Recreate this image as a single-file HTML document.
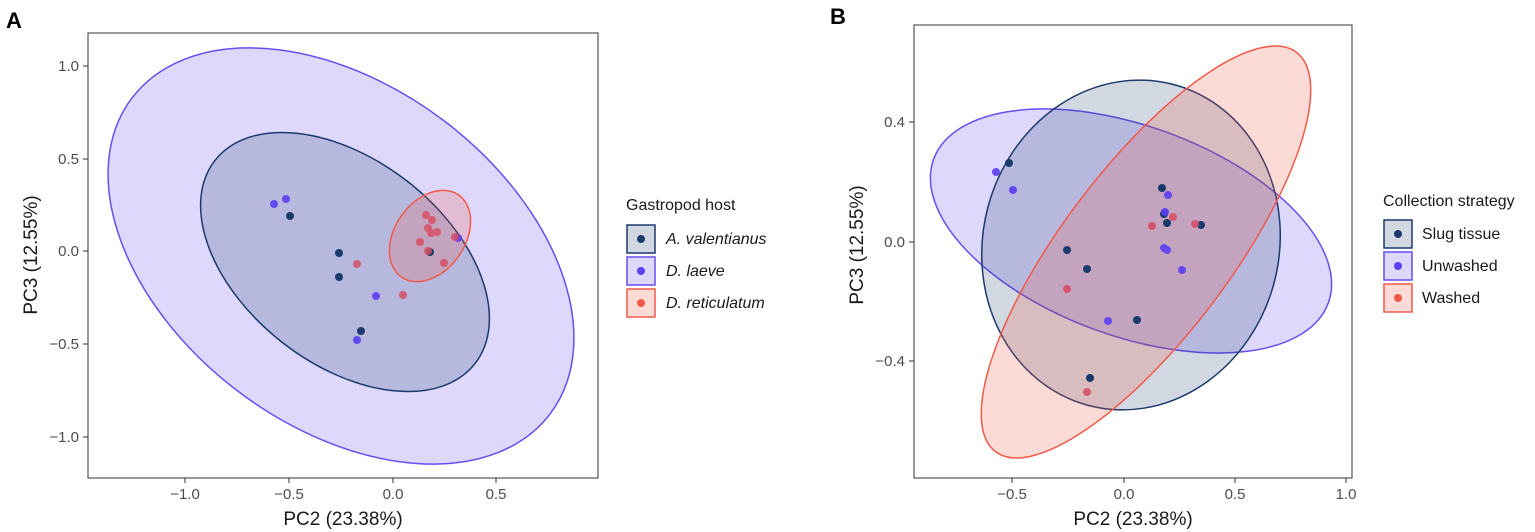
<!DOCTYPE html>
<html><head><meta charset="utf-8"><style>
html,body{margin:0;padding:0;background:#fff;}
svg{display:block;font-family:"Liberation Sans",sans-serif;}
.t{font-size:15px;fill:#4d4d4d;}
.ax{font-size:19px;fill:#1a1a1a;}
.lg{font-size:16px;fill:#1a1a1a;}
</style></head><body>
<svg width="1535" height="532" viewBox="0 0 1535 532" xmlns="http://www.w3.org/2000/svg">
<rect width="1535" height="532" fill="#fff"/>
<text x="6" y="28" font-size="22" font-weight="bold">A</text>
<text x="830" y="24" font-size="22" font-weight="bold">B</text>

<!-- Panel A -->
<g>
<ellipse cx="341" cy="256" rx="262" ry="170" transform="rotate(37 341 256)" fill="rgba(106,76,240,0.22)" stroke="#6a4cf0" stroke-width="1.5"/>
<ellipse cx="345" cy="262" rx="165" ry="102" transform="rotate(38 345 262)" fill="rgba(26,58,107,0.2)" stroke="#1a3a6b" stroke-width="1.5"/>
<ellipse cx="430" cy="236" rx="50" ry="35" transform="rotate(-55 430 236)" fill="rgba(240,90,74,0.22)" stroke="#f05a4a" stroke-width="1.5"/>
<g fill="#5b3ff0" opacity="0.9">
<circle cx="274" cy="204" r="4"/><circle cx="286" cy="199" r="4"/><circle cx="376" cy="296" r="4"/><circle cx="357" cy="340" r="4"/><circle cx="458" cy="238" r="4"/></g>
<g fill="#1a3a6b">
<circle cx="290" cy="216" r="4"/><circle cx="339" cy="253" r="4"/><circle cx="339" cy="277" r="4"/><circle cx="361" cy="331" r="4"/><circle cx="430" cy="252" r="4"/></g>
<g fill="#d64f66" opacity="0.85">
<circle cx="357" cy="264" r="4"/><circle cx="403" cy="295" r="4"/><circle cx="420" cy="242" r="4"/><circle cx="426" cy="215" r="4"/><circle cx="432" cy="220" r="4"/><circle cx="428" cy="228" r="4"/><circle cx="431" cy="233" r="4"/><circle cx="437" cy="232" r="4"/><circle cx="428" cy="251" r="4"/><circle cx="444" cy="263" r="4"/><circle cx="455" cy="237" r="4"/></g>
<rect x="88" y="33" width="510" height="445" fill="none" stroke="#333" stroke-width="1"/>
<g stroke="#333"><line x1="185" y1="478" x2="185" y2="483"/><line x1="289" y1="478" x2="289" y2="483"/><line x1="393" y1="478" x2="393" y2="483"/><line x1="496" y1="478" x2="496" y2="483"/>
<line x1="83" y1="66" x2="88" y2="66"/><line x1="83" y1="159" x2="88" y2="159"/><line x1="83" y1="251" x2="88" y2="251"/><line x1="83" y1="344" x2="88" y2="344"/><line x1="83" y1="437" x2="88" y2="437"/></g>
<g class="t" text-anchor="middle"><text x="185" y="499">−1.0</text><text x="289" y="499">−0.5</text><text x="393" y="499">0.0</text><text x="496" y="499">0.5</text></g>
<g class="t" text-anchor="end"><text x="79" y="71">1.0</text><text x="79" y="164">0.5</text><text x="79" y="256">0.0</text><text x="79" y="349">−0.5</text><text x="79" y="442">−1.0</text></g>
<text class="ax" x="343" y="525" text-anchor="middle">PC2 (23.38%)</text>
<text class="ax" transform="translate(37 255) rotate(-90)" text-anchor="middle">PC3 (12.55%)</text>
<text class="lg" x="626" y="210" font-size="17">Gastropod host</text>
<rect x="627" y="225" width="28" height="28" fill="rgba(26,58,107,0.2)" stroke="#1a3a6b" stroke-width="1.5"/><circle cx="641" cy="239" r="4" fill="#1a3a6b"/>
<rect x="627" y="257" width="28" height="28" fill="rgba(106,76,240,0.22)" stroke="#6a4cf0" stroke-width="1.5"/><circle cx="641" cy="271" r="4" fill="#5b3ff0"/>
<rect x="627" y="289" width="28" height="28" fill="rgba(240,90,74,0.22)" stroke="#f05a4a" stroke-width="1.5"/><circle cx="641" cy="303" r="4" fill="#f05a4a"/>
<g class="lg" font-style="italic"><text x="666" y="244">A. valentianus</text><text x="666" y="276">D. laeve</text><text x="666" y="308">D. reticulatum</text></g>
</g>

<!-- Panel B -->
<g>
<ellipse cx="1131" cy="231" rx="210" ry="105" transform="rotate(20 1131 231)" fill="rgba(106,76,240,0.22)" stroke="#6a4cf0" stroke-width="1.5"/>
<ellipse cx="1131" cy="245" rx="148" ry="166" transform="rotate(15 1131 245)" fill="rgba(26,58,107,0.2)" stroke="#1a3a6b" stroke-width="1.5"/>
<ellipse cx="1146" cy="252" rx="250" ry="84" transform="rotate(-53 1146 252)" fill="rgba(240,90,74,0.22)" stroke="#f05a4a" stroke-width="1.5"/>
<g fill="#1a3a6b">
<circle cx="1009" cy="163" r="4"/><circle cx="1162" cy="188" r="4"/><circle cx="1164" cy="214" r="4"/><circle cx="1167" cy="223" r="4"/><circle cx="1201" cy="225" r="4"/><circle cx="1067" cy="250" r="4"/><circle cx="1087" cy="269" r="4"/><circle cx="1137" cy="320" r="4"/><circle cx="1090" cy="378" r="4"/></g>
<g fill="#5b3ff0" opacity="0.9">
<circle cx="996" cy="172" r="4"/><circle cx="1013" cy="190" r="4"/><circle cx="1168" cy="195" r="4"/><circle cx="1165" cy="212" r="4"/><circle cx="1164" cy="248" r="4"/><circle cx="1167" cy="250" r="4"/><circle cx="1182" cy="270" r="4"/><circle cx="1108" cy="321" r="4"/></g>
<g fill="#d64f66" opacity="0.9">
<circle cx="1152" cy="226" r="4"/><circle cx="1173" cy="217" r="4"/><circle cx="1195" cy="224" r="4"/><circle cx="1067" cy="289" r="4"/><circle cx="1087" cy="392" r="4"/></g>
<rect x="914" y="25" width="438" height="453" fill="none" stroke="#333" stroke-width="1"/>
<g stroke="#333"><line x1="1012" y1="478" x2="1012" y2="483"/><line x1="1124" y1="478" x2="1124" y2="483"/><line x1="1235" y1="478" x2="1235" y2="483"/><line x1="1346" y1="478" x2="1346" y2="483"/>
<line x1="909" y1="122" x2="914" y2="122"/><line x1="909" y1="242" x2="914" y2="242"/><line x1="909" y1="361" x2="914" y2="361"/></g>
<g class="t" text-anchor="middle"><text x="1012" y="499">−0.5</text><text x="1124" y="499">0.0</text><text x="1235" y="499">0.5</text><text x="1346" y="499">1.0</text></g>
<g class="t" text-anchor="end"><text x="905" y="127">0.4</text><text x="905" y="247">0.0</text><text x="905" y="366">−0.4</text></g>
<text class="ax" x="1133" y="525" text-anchor="middle">PC2 (23.38%)</text>
<text class="ax" transform="translate(863 245) rotate(-90)" text-anchor="middle">PC3 (12.55%)</text>
<text class="lg" x="1383" y="206" font-size="17">Collection strategy</text>
<rect x="1384" y="220" width="28" height="28" fill="rgba(26,58,107,0.2)" stroke="#1a3a6b" stroke-width="1.5"/><circle cx="1398" cy="234" r="4" fill="#1a3a6b"/>
<rect x="1384" y="252" width="28" height="28" fill="rgba(106,76,240,0.22)" stroke="#6a4cf0" stroke-width="1.5"/><circle cx="1398" cy="266" r="4" fill="#5b3ff0"/>
<rect x="1384" y="284" width="28" height="28" fill="rgba(240,90,74,0.22)" stroke="#f05a4a" stroke-width="1.5"/><circle cx="1398" cy="298" r="4" fill="#f05a4a"/>
<g class="lg"><text x="1422" y="239">Slug tissue</text><text x="1422" y="271">Unwashed</text><text x="1422" y="303">Washed</text></g>
</g>
</svg>
</body></html>
